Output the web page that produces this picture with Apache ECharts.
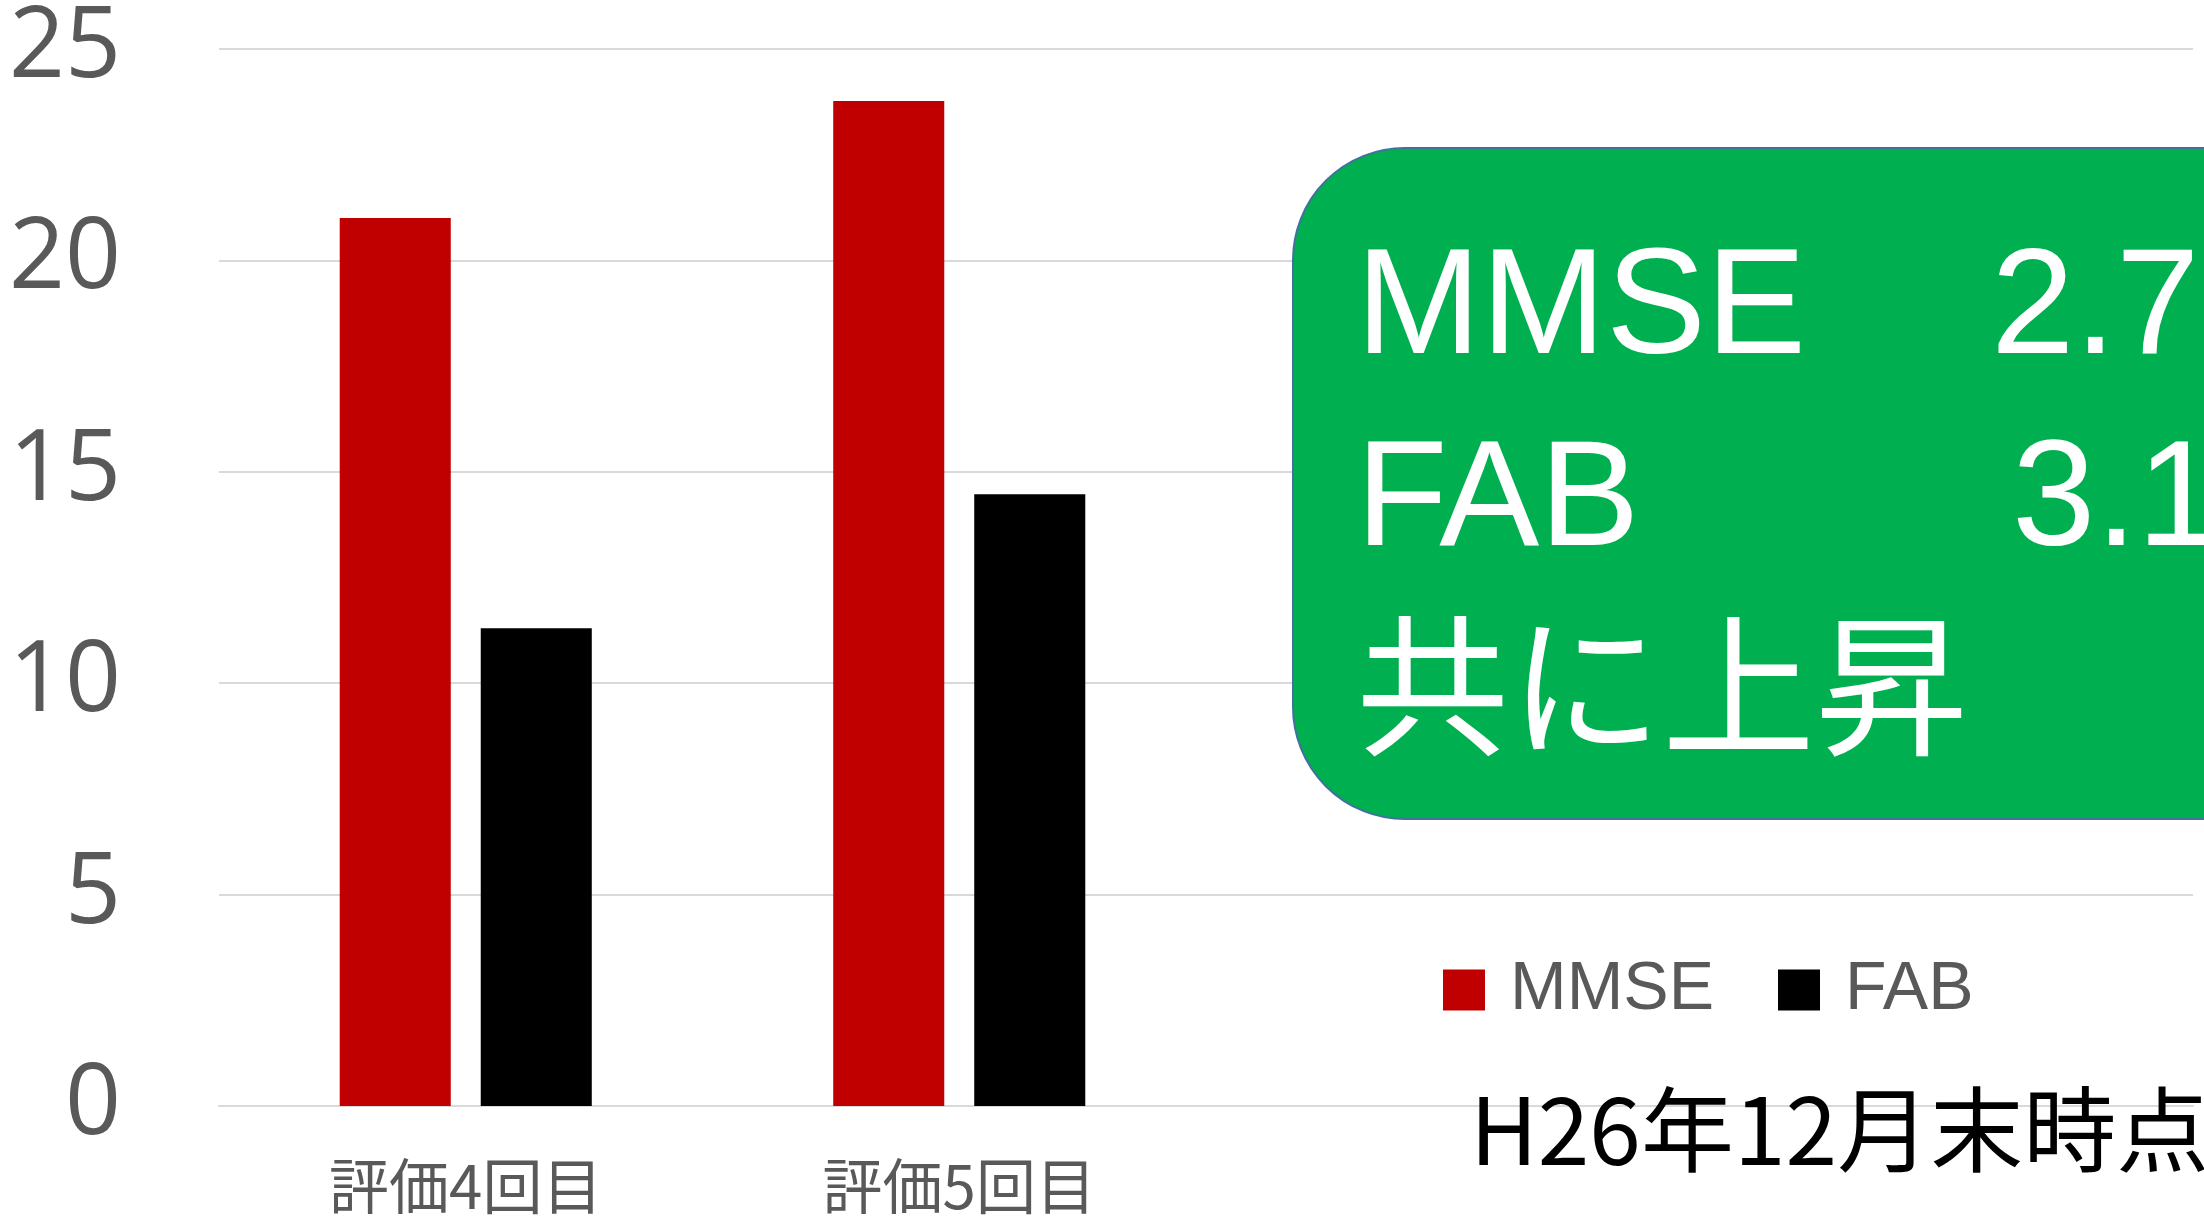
<!DOCTYPE html>
<html>
<head>
<meta charset="utf-8">
<script src="https://cdn.jsdelivr.net/npm/echarts@6/dist/echarts.min.js"></script>
<style>
  html, body { margin: 0; padding: 0; background: #fff; }
  #main { width: 2204px; height: 1222px; }
</style>
</head>
<body>
<div id="main"></div>
<script>
// データ
var categories = ['評価4回目', '評価5回目', '', ''];
var mmse = [21, 23.77, null, null];
var fab = [11.3, 14.47, null, null];
var yTicks = [0, 5, 10, 15, 20, 25];

var myChart = echarts.init(document.getElementById('main'));
var option = {
    animation: false,
    grid: {
        left: 219,
        right: 11,
        top: 46,
        bottom: 116
    },
    legend: {
        data: ['MMSE', 'FAB'],
        icon: 'rect',
        left: 1438,
        top: 951,
        itemWidth: 42,
        itemHeight: 41,
        itemGap: 64,
        textStyle: {
            color: '#595959',
            fontSize: 68,
            fontFamily: 'Liberation Sans',
            padding: [0, 0, 0, 20]
        }
    },
    xAxis: {
        type: 'category',
        data: categories,
        axisTick: { show: false },
        axisLine: {
            lineStyle: { color: '#d9d9d9', width: 2 }
        },
        axisLabel: {
            color: '#595959',
            fontSize: 60,
            fontFamily: 'Noto Sans CJK JP',
            margin: 50
        }
    },
    yAxis: {
        type: 'value',
        min: yTicks[0],
        max: yTicks[yTicks.length - 1],
        interval: 5,
        axisLine: { show: false },
        axisTick: { show: false },
        axisLabel: {
            color: '#595959',
            fontSize: 98,
            fontFamily: 'Open Sans',
            margin: 98
        },
        // 目盛線
        splitLine: {
            lineStyle: { color: '#d9d9d9', width: 2 }
        }
    },
    series: [
        {
            name: 'MMSE',
            type: 'bar',
            barWidth: '22.5%',
            barGap: '27%',
            itemStyle: { color: '#c00000' },
            data: mmse
        },
        {
            name: 'FAB',
            type: 'bar',
            barWidth: '22.5%',
            itemStyle: { color: '#000000' },
            data: fab
        }
    ],
    graphic: [
        {
            type: 'rect',
            z: 100,
            shape: { x: 1293, y: 148, width: 1100, height: 671, r: 112 },
            style: { fill: '#00b050', stroke: '#41719c', lineWidth: 2 }
        },
        {
            type: 'text', z: 101, x: 1356, y: 312,
            style: { text: 'MMSE', fill: '#fff', fontSize: 150, fontFamily: 'Liberation Sans', verticalAlign: 'middle' }
        },
        {
            type: 'text', z: 101, x: 1991, y: 312,
            style: { text: '2.77点', fill: '#fff', fontSize: 150, fontFamily: 'Liberation Sans', verticalAlign: 'middle' }
        },
        {
            type: 'text', z: 101, x: 1356, y: 504,
            style: { text: 'FAB', fill: '#fff', fontSize: 150, fontFamily: 'Liberation Sans', verticalAlign: 'middle' }
        },
        {
            type: 'text', z: 101, x: 2012, y: 504,
            style: { text: '3.17点', fill: '#fff', fontSize: 150, fontFamily: 'Liberation Sans', verticalAlign: 'middle' }
        },
        {
            type: 'text', z: 101, x: 1356, y: 686,
            style: { text: '共に上昇', fill: '#fff', fontSize: 153, fontFamily: 'Noto Sans CJK JP', verticalAlign: 'middle' }
        },
        {
            type: 'text', z: 101, x: 1470, y: 1130,
            style: { text: 'H26年12月末時点', fill: '#000', fontSize: 93, fontFamily: 'Noto Sans CJK JP', verticalAlign: 'middle' }
        }
    ]
};
myChart.setOption(option);
</script>
</body>
</html>
